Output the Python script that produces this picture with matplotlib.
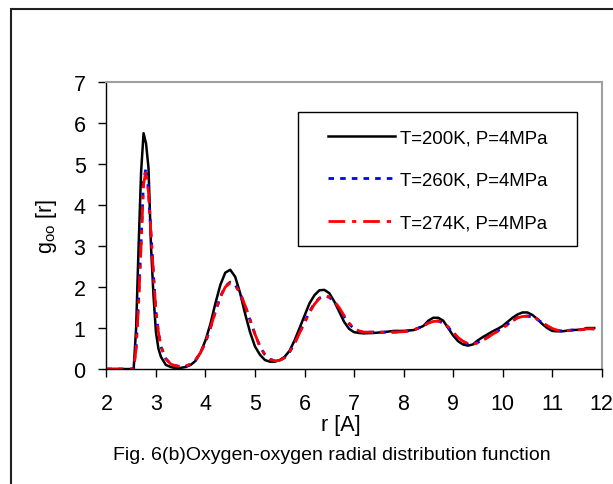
import matplotlib
matplotlib.use("Agg")
from matplotlib import pyplot as plt
from matplotlib.patches import Rectangle
import numpy as np

plt.rcParams['font.family'] = ['Liberation Sans', 'DejaVu Sans']

# radius grid [A]
r = [2.0, 2.5, 2.55, 2.6, 2.65, 2.7, 2.75, 2.8, 2.85, 2.9, 2.95, 3.0, 3.05, 3.1,
     3.2, 3.3, 3.4, 3.5, 3.6, 3.7, 3.8, 3.9, 4.0, 4.1, 4.2, 4.3, 4.4, 4.5, 4.6,
     4.7, 4.8, 4.9, 5.0, 5.1, 5.2, 5.3, 5.4, 5.5, 5.6, 5.7, 5.8, 5.9, 6.0, 6.1,
     6.2, 6.3, 6.4, 6.5, 6.6, 6.7, 6.8, 6.9, 7.0, 7.1, 7.2, 7.4, 7.6, 7.8, 8.0,
     8.2, 8.4, 8.5, 8.6, 8.7, 8.8, 8.9, 9.0, 9.1, 9.2, 9.3, 9.4, 9.5, 9.6, 9.7,
     9.8, 9.9, 10.0, 10.1, 10.2, 10.3, 10.4, 10.5, 10.6, 10.7, 10.8, 10.9, 11.0,
     11.1, 11.2, 11.4, 11.6, 11.7, 11.85]

g_200 = [0, 0, 0.0, 1.0, 3.0, 4.8, 5.75, 5.5, 4.9, 3.0, 1.8, 0.9, 0.5, 0.3,
         0.1, 0.05, 0.02, 0.03, 0.05, 0.1, 0.2, 0.4, 0.7, 1.1, 1.6, 2.05, 2.35, 2.42, 2.25,
         1.85, 1.35, 0.9, 0.55, 0.35, 0.22, 0.18, 0.18, 0.22, 0.3, 0.45, 0.7, 1.0, 1.3, 1.6,
         1.8, 1.92, 1.93, 1.85, 1.65, 1.4, 1.15, 0.98, 0.9, 0.88, 0.87, 0.88, 0.9, 0.93, 0.93,
         0.95, 1.05, 1.18, 1.25, 1.25, 1.18, 1.0, 0.82, 0.68, 0.6, 0.57, 0.6, 0.7, 0.78, 0.85,
         0.92, 0.98, 1.05, 1.15, 1.25, 1.33, 1.38, 1.38, 1.32, 1.22, 1.1, 1.0, 0.93,
         0.92, 0.92, 0.95, 0.96, 1.0, 1.0]

g_260 = [0, 0, 0.0, 0.55, 1.7, 3.1, 4.6, 4.9, 4.35, 3.3, 2.3, 1.4, 0.9, 0.55,
         0.25, 0.12, 0.08, 0.06, 0.07, 0.12, 0.22, 0.4, 0.65, 1.0, 1.4, 1.76, 2.02, 2.12, 2.05,
         1.85, 1.55, 1.2, 0.85, 0.55, 0.35, 0.24, 0.2, 0.21, 0.28, 0.42, 0.63, 0.9, 1.14, 1.4,
         1.6, 1.73, 1.78, 1.75, 1.64, 1.48, 1.28, 1.1, 0.98, 0.92, 0.9, 0.9, 0.9, 0.9, 0.91,
         0.95, 1.05, 1.13, 1.17, 1.17, 1.12, 1.02, 0.88, 0.75, 0.66, 0.61, 0.6, 0.65, 0.71, 0.78,
         0.86, 0.93, 1.0, 1.09, 1.18, 1.25, 1.29, 1.29, 1.27, 1.21, 1.13, 1.05, 0.98,
         0.94, 0.93, 0.95, 0.96, 0.98, 0.98]

g_274 = [0, 0, 0.0, 0.5, 1.6, 3.0, 4.5, 4.85, 4.3, 3.3, 2.3, 1.4, 0.9, 0.55,
         0.25, 0.12, 0.08, 0.06, 0.07, 0.12, 0.22, 0.4, 0.65, 1.0, 1.4, 1.75, 2.0, 2.1, 2.05,
         1.85, 1.55, 1.2, 0.85, 0.55, 0.35, 0.24, 0.2, 0.21, 0.28, 0.42, 0.62, 0.88, 1.12, 1.38,
         1.58, 1.72, 1.78, 1.76, 1.65, 1.5, 1.3, 1.12, 1.0, 0.93, 0.9, 0.9, 0.9, 0.9, 0.91,
         0.95, 1.05, 1.12, 1.16, 1.17, 1.13, 1.03, 0.9, 0.77, 0.68, 0.62, 0.6, 0.64, 0.7, 0.77,
         0.85, 0.92, 1.0, 1.08, 1.17, 1.25, 1.28, 1.29, 1.28, 1.22, 1.14, 1.06, 0.99,
         0.95, 0.93, 0.95, 0.96, 0.98, 0.98]

labels = ['T=200K, P=4MPa', 'T=260K, P=4MPa', 'T=274K, P=4MPa']
x_ticks = list(range(2, 13))
y_ticks = list(range(0, 8))

fig = plt.figure(figsize=(6.13, 4.85), dpi=100)
ax = fig.add_axes([0.1736, 0.237, 0.8079, 0.592])

ax.plot(r, g_200, color='black', lw=1.8, label=labels[0])
ax.plot(r, g_260, color='blue', lw=2, ls=(0, (2, 2.2)), label=labels[1])
ax.plot(r, g_274, color='red', lw=2, ls=(0, (6, 2.5, 1.5, 2.5)), label=labels[2])

ax.set_xlim(2, 12)
ax.set_ylim(0, 7)
ax.set_xticks(x_ticks)
ax.set_yticks(y_ticks)
ax.tick_params(direction='out', length=6, width=1, labelsize=15.5)
ax.tick_params(axis='y', pad=9)
ax.tick_params(axis='x', pad=11)
for side in ['top', 'right']:
    ax.spines[side].set_color('#a0a0a0')
    ax.spines[side].set_linewidth(1.5)
for side in ['left', 'bottom']:
    ax.spines[side].set_linewidth(1)

ax.set_xlabel('r [A]', fontsize=15.5)
ax.xaxis.set_label_coords(0.474, -0.158)
ax.set_ylabel(r'g$_\mathregular{oo}$ [r]', fontsize=15.5)
ax.yaxis.set_label_coords(-0.096, 0.5)

# legend box drawn by hand, entries placed inside it
fig.patches.append(Rectangle((0.486, 0.491), 0.455, 0.276, transform=fig.transFigure,
                             fill=False, edgecolor='black', lw=1))
ax.legend(loc='upper left', bbox_to_anchor=(328 / 613, 1 - 130 / 485),
          bbox_transform=fig.transFigure, frameon=False, fontsize=13.4,
          handlelength=3.6, handletextpad=0.25, labelspacing=1.38, borderpad=0,
          borderaxespad=0)

# outer figure border
fig.patches.append(Rectangle((11 / 613, -0.1), 1.2, 1 - 10 / 485 + 0.1,
                             transform=fig.transFigure, fill=False,
                             edgecolor='#202020', lw=1.5))

fig.text(113 / 613, 1 - 456 / 485, 'Fig. 6(b)Oxygen-oxygen radial distribution function',
         ha='left', va='center', fontsize=14)

fig.savefig('out.png', dpi=100)
